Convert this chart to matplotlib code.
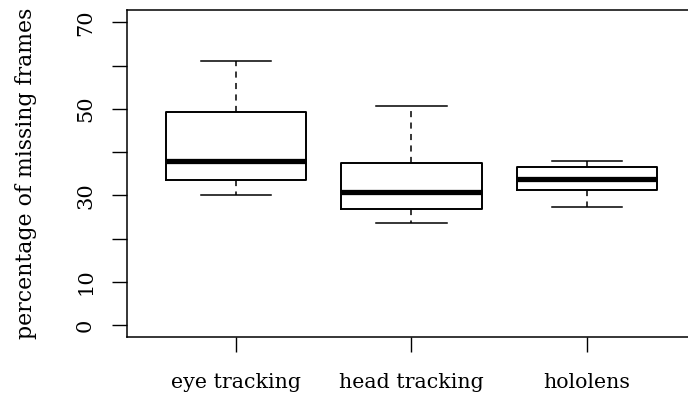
import matplotlib
matplotlib.use("Agg")
import matplotlib.pyplot as plt

# data
kategori = ["eye tracking", "head tracking", "hololens"]
bawah = [30.0, 23.6, 27.3]      # whisker bawah
q1 = [33.6, 26.9, 31.2]
median = [37.9, 30.7, 33.8]
q3 = [49.3, 37.4, 36.5]
atas = [61.0, 50.6, 37.9]      # whisker atas

plt.rcParams["font.family"] = ["DejaVu Serif"]

fig = plt.figure(figsize=(6.88, 4.01), dpi=100)
ax = fig.add_axes([127 / 688, (401 - 337.3) / 401, (696 - 127) / 688, 327 / 401])

stats = []
for i in range(len(kategori)):
    stats.append({"label": kategori[i], "whislo": bawah[i], "q1": q1[i],
                  "med": median[i], "q3": q3[i], "whishi": atas[i], "fliers": []})

ax.bxp(stats, positions=[1, 2, 3], widths=0.8, showfliers=False,
       boxprops=dict(color="black", linewidth=1.4),
       medianprops=dict(color="black", linewidth=3.8, solid_capstyle="butt"),
       whiskerprops=dict(color="black", linewidth=1.1, linestyle=(0, (4, 3.5))),
       capprops=dict(color="black", linewidth=1.1),
       capwidths=0.4)

ax.set_xlim(0.38, 3.62)
ax.set_ylim(-2.8, 72.8)

ax.set_yticks(range(0, 71, 10))
ax.set_yticklabels(["0", "10", "", "30", "", "50", "", "70"], rotation=90, va="center")
ax.tick_params(axis="y", length=11, width=1.0, pad=12, labelsize=15)
ax.tick_params(axis="x", length=11, width=1.0, pad=15, labelsize=14.8)

for s in ax.spines.values():
    s.set_linewidth(1.1)

ax.set_ylabel("percentage of missing frames", fontsize=15.8)
ax.yaxis.set_label_coords(-0.158, 0.5)

fig.savefig("out.png", dpi=100)
